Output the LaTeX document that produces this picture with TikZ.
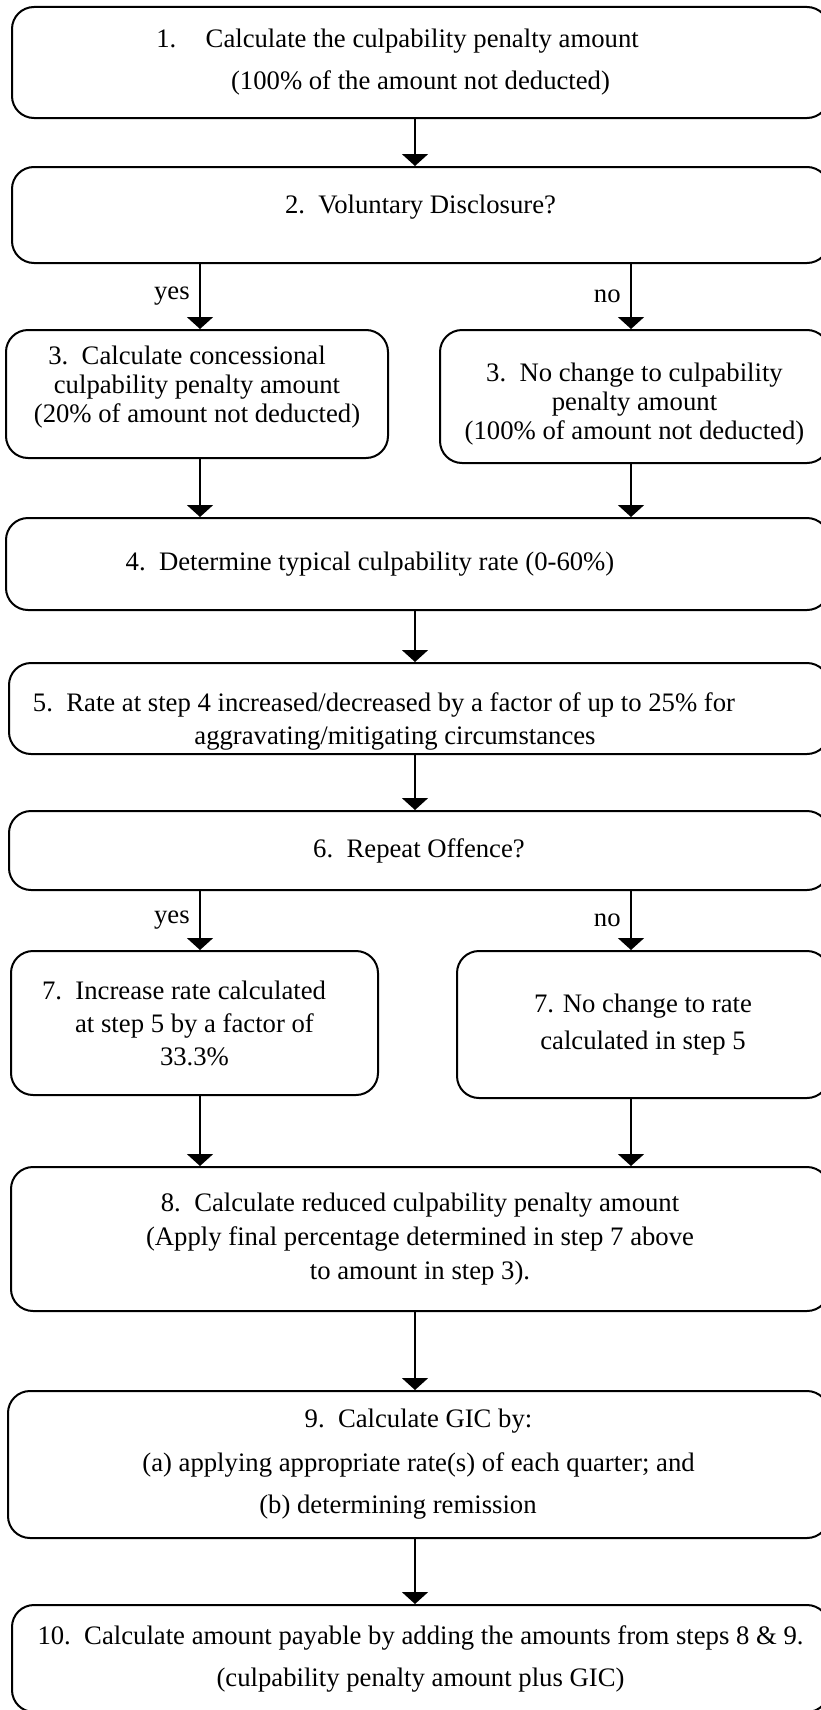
\documentclass[tikz,border=0pt]{standalone}
\usepackage{fontspec}
\setmainfont{Liberation Serif}
\usetikzlibrary{arrows.meta}

\begin{document}
\begin{tikzpicture}[x=1pt, y=-1pt,
        stepbox/.style={draw, rounded corners=22pt, line width=2pt, align=center, inner sep=0pt,
            font=\fontsize{26.7}{33}\selectfont},
        flow/.style={line width=2pt, -{Triangle[length=12pt, width=26pt]}},
        answer/.style={midway, left=6pt, font=\fontsize{26.7}{33}\selectfont}]
    \useasboundingbox (0,0) rectangle (821,1710);
    \coordinate (yescol) at (200,0);
    \coordinate (nocol) at (631,0);
    \coordinate (midcol) at (415,0);

    \node[stepbox, minimum width=817pt, minimum height=111pt] (b1) at (420.5,62.5)
        {1.\hspace{1.1em}Calculate the culpability penalty amount\hspace*{46pt}\\[9pt]
         (100\% of the amount not deducted)};
    \node[stepbox, minimum width=817pt, minimum height=96pt] (b2) at (420.5,215)
        {\raisebox{8pt}[\height][\depth]{2.\ \ Voluntary Disclosure?}};
    \node[stepbox, minimum width=382pt, minimum height=128pt] (b3a) at (197,394)
        {3.\ \ Calculate concessional\hspace*{20pt}\\[-4pt]
         culpability penalty amount\\[-4pt]
         (20\% of amount not deducted)\rule[-20pt]{0pt}{1pt}};
    \node[stepbox, minimum width=389pt, minimum height=133pt] (b3b) at (634.5,396.5)
        {\rule{0pt}{34pt}3.\ \ No change to culpability\\[-4pt]
         penalty amount\\[-4pt]
         (100\% of amount not deducted)};
    \node[stepbox, minimum width=823pt, minimum height=92pt] (b4) at (417.5,564)
        {4.\ \ Determine typical culpability rate (0-60\%)\hspace*{95pt}};
    \node[stepbox, minimum width=820pt, minimum height=91pt] (b5) at (419,708.5)
        {\rule{0pt}{44pt}5.\ \ Rate at step 4 increased/decreased by a factor of up to 25\% for\hspace*{70pt}\\
         aggravating/mitigating circumstances\hspace*{48pt}};
    \node[stepbox, minimum width=820pt, minimum height=79pt] (b6) at (419,850.5)
        {6.\ \ Repeat Offence?};
    \node[stepbox, minimum width=367pt, minimum height=144pt] (b7a) at (194.5,1023)
        {7.\ \ Increase rate calculated\hspace*{21pt}\\
         at step 5 by a factor of\\
         33.3\%};
    \node[stepbox, minimum width=372pt, minimum height=147pt] (b7b) at (643,1024.5)
        {7. No change to rate\\[4pt]
         calculated in step 5};
    \node[stepbox, minimum width=818pt, minimum height=144pt] (b8) at (420,1239)
        {8.\ \ Calculate reduced culpability penalty amount\\[1pt]
         (Apply final percentage determined in step 7 above\\[1pt]
         to amount in step 3).};
    \node[stepbox, minimum width=821pt, minimum height=147pt] (b9) at (418.5,1464.5)
        {9.\ \ Calculate GIC by:\\[11pt]
         (a) applying appropriate rate(s) of each quarter; and\\[9pt]
         (b) determining remission\hspace*{41pt}};
    \node[stepbox, minimum width=817pt, minimum height=107pt] (b10) at (420.5,1658.5)
        {10.\ \ Calculate amount payable by adding the amounts from steps 8 \& 9.\\[9pt]
         (culpability penalty amount plus GIC)};

    % main line
    \draw[flow] (b1.south -| midcol) -- (b2.north -| midcol);
    \draw[flow] (b4.south -| midcol) -- (b5.north -| midcol);
    \draw[flow] (b5.south -| midcol) -- (b6.north -| midcol);
    \draw[flow] (b8.south -| midcol) -- (b9.north -| midcol);
    \draw[flow] (b9.south -| midcol) -- (b10.north -| midcol);
    % voluntary disclosure
    \draw[flow] (b2.south -| yescol) -- node[answer] {yes} (b3a.north -| yescol);
    \draw[flow] (b2.south -| nocol) -- node[answer] {no} (b3b.north -| nocol);
    \draw[flow] (b3a.south -| yescol) -- (b4.north -| yescol);
    \draw[flow] (b3b.south -| nocol) -- (b4.north -| nocol);
    % repeat offence
    \draw[flow] (b6.south -| yescol) -- node[answer] {yes} (b7a.north -| yescol);
    \draw[flow] (b6.south -| nocol) -- node[answer] {no} (b7b.north -| nocol);
    \draw[flow] (b7a.south -| yescol) -- (b8.north -| yescol);
    \draw[flow] (b7b.south -| nocol) -- (b8.north -| nocol);
\end{tikzpicture}
\end{document}
